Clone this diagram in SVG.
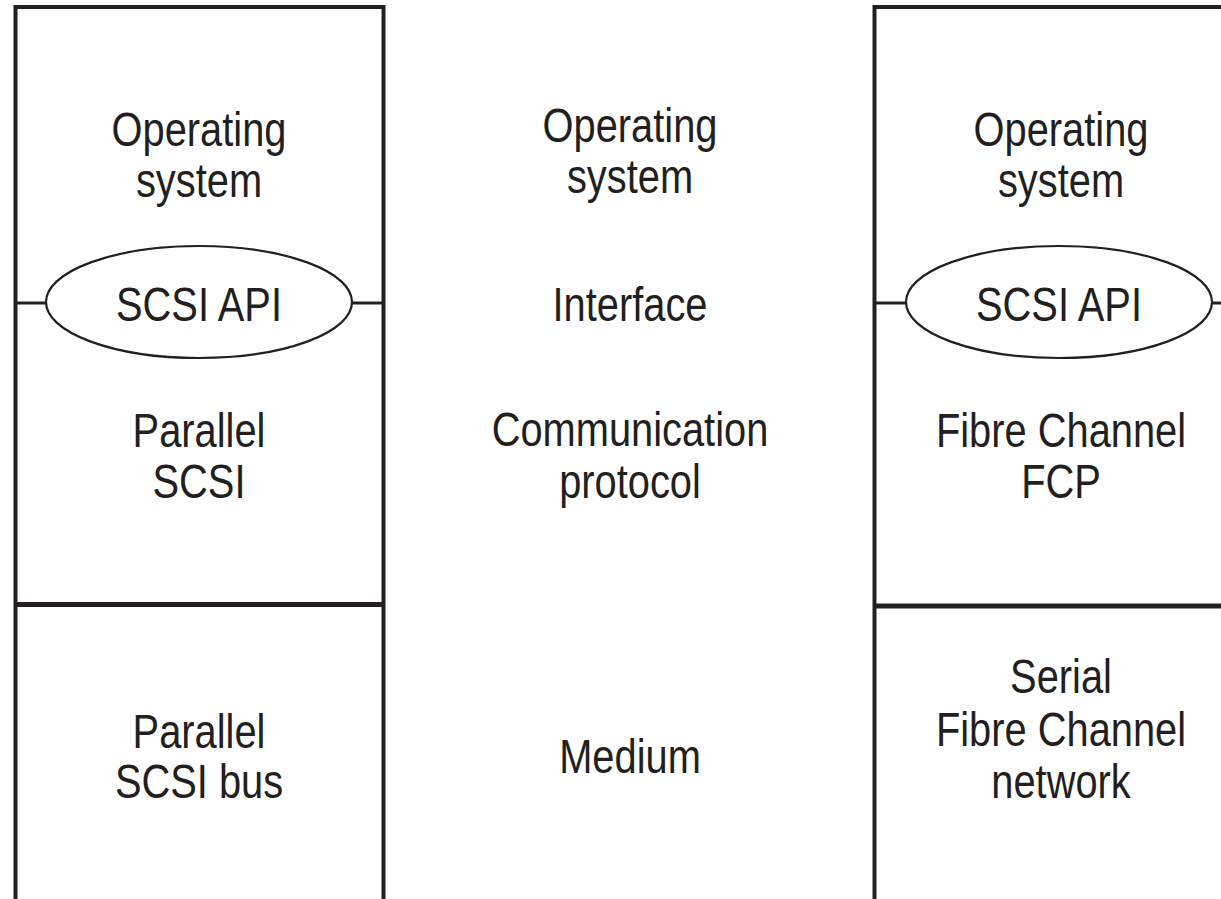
<svg xmlns="http://www.w3.org/2000/svg" width="1221" height="899" viewBox="0 0 1221 899">
<style>
.box{fill:none;stroke:#231f20;stroke-width:4}
.div{stroke:#231f20;stroke-width:5}
.ell{fill:#fff;stroke:#231f20;stroke-width:2.2}
.con{stroke:#231f20;stroke-width:3}
text{font-family:"Liberation Sans",Arial,sans-serif;font-size:48px;fill:#231f20;text-anchor:middle}
</style>
<rect width="1221" height="899" fill="#fff"/>
<g id="left-stack">
<path class="box" d="M15.5,905 V7 H383.5 V905"/>
<line class="div" x1="15.5" y1="604.5" x2="383.5" y2="604.5"/>
<text transform="translate(199 146) scale(0.83 1)">Operating</text>
<text transform="translate(199 197) scale(0.83 1)">system</text>
<text transform="translate(199 447) scale(0.83 1)">Parallel</text>
<text transform="translate(199 498) scale(0.83 1)">SCSI</text>
<text transform="translate(199 748) scale(0.83 1)">Parallel</text>
<text transform="translate(199 798) scale(0.83 1)">SCSI bus</text>
</g>
<g id="middle-labels">
<text transform="translate(630 142) scale(0.83 1)">Operating</text>
<text transform="translate(630 193) scale(0.83 1)">system</text>
<text transform="translate(630 321) scale(0.83 1)">Interface</text>
<text transform="translate(630 446) scale(0.83 1)">Communication</text>
<text transform="translate(630 498) scale(0.83 1)">protocol</text>
<text transform="translate(630 773) scale(0.83 1)">Medium</text>
</g>
<g id="right-stack">
<path class="box" d="M874.5,905 V7 H1230"/>
<line class="div" x1="874.5" y1="606" x2="1230" y2="606"/>
<text transform="translate(1061 146) scale(0.83 1)">Operating</text>
<text transform="translate(1061 197) scale(0.83 1)">system</text>
<text transform="translate(1061 447) scale(0.83 1)">Fibre Channel</text>
<text transform="translate(1061 498) scale(0.83 1)">FCP</text>
<text transform="translate(1061 693) scale(0.83 1)">Serial</text>
<text transform="translate(1061 746) scale(0.83 1)">Fibre Channel</text>
<text transform="translate(1061 798) scale(0.83 1)">network</text>
</g>
<g id="connectors">
<line class="con" x1="15.5" y1="303" x2="46" y2="303"/>
<line class="con" x1="352" y1="303" x2="383.5" y2="303"/>
<line class="con" x1="874.5" y1="303" x2="906" y2="303"/>
<line class="con" x1="1212" y1="303" x2="1225" y2="303"/>
</g>
<g id="left-api">
<ellipse class="ell" cx="199" cy="302" rx="153" ry="56"/>
<text transform="translate(199 321) scale(0.83 1)">SCSI API</text>
</g>
<g id="right-api">
<ellipse class="ell" cx="1059" cy="302" rx="153" ry="56"/>
<text transform="translate(1059 321) scale(0.83 1)">SCSI API</text>
</g>
</svg>
